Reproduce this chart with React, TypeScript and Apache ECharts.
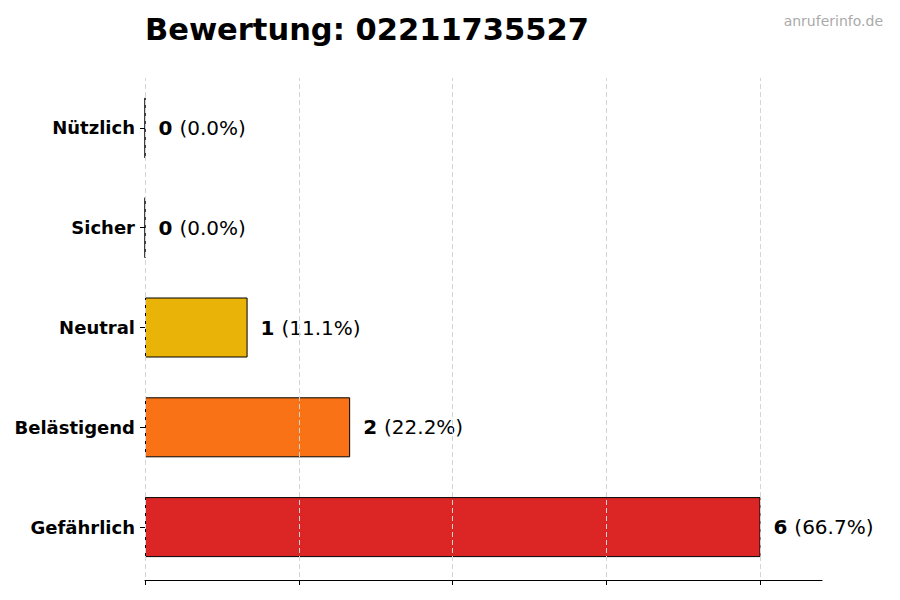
import { useEffect, useRef } from 'react';
import * as echarts from 'echarts';

const categories = ['Gefährlich', 'Belästigend', 'Neutral', 'Sicher', 'Nützlich'];
const counts = [6, 2, 1, 0, 0];
const barColors = ['#dc2626', '#f97316', '#eab308', '#22c55e', '#3b82f6'];
const xTicks = [0, 1.5, 3, 4.5, 6];

const total = counts.reduce((a, b) => a + b, 0);

const App: React.FC = () => {
  const divRef = useRef<HTMLDivElement | null>(null);

  useEffect(() => {
    document.body.style.margin = '0';
    if (!divRef.current) return;
    const chart = echarts.init(divRef.current, undefined, { renderer: 'svg' });
    const font = 'DejaVu Sans, sans-serif';

    chart.setOption({
      animation: false,
      textStyle: { fontFamily: font },
      title: [
        {
          text: 'Bewertung: 02211735527',
          left: 140,
          top: 9,
          textStyle: { fontSize: 30.5, fontWeight: 'bold', color: '#000', fontFamily: font },
        },
        {
          text: 'anruferinfo.de',
          right: 12,
          top: 9,
          textStyle: { fontSize: 14, fontWeight: 'normal', color: '#aaaaaa', fontFamily: font },
        },
      ],
      grid: { left: 145, right: 78, top: 78, bottom: 23 },
      xAxis: {
        type: 'value',
        min: 0,
        max: 6.6,
        offset: 3,
        axisLine: { show: true, lineStyle: { color: '#000', width: 1 } },
        axisTick: {
          show: true,
          length: 5,
          customValues: xTicks,
          lineStyle: { color: '#000' },
        },
        axisLabel: { show: false },
        splitLine: { show: false },
      },
      yAxis: {
        type: 'category',
        data: categories,
        axisLine: { show: false },
        axisTick: { show: true, length: 5, alignWithLabel: true, lineStyle: { color: '#000' } },
        axisLabel: { fontSize: 18, fontWeight: 'bold', color: '#000', margin: 10, fontFamily: font },
        splitLine: { show: false },
      },
      series: [
        {
          type: 'bar',
          barWidth: 60,
          data: counts.map((v, i) => ({
            value: v,
            itemStyle: { color: barColors[i], borderColor: '#000', borderWidth: 1 },
          })),
          label: {
            show: true,
            position: 'right',
            distance: 13,
            formatter: (p: any) =>
              `{b|${p.value} }{n|(${((p.value / total) * 100).toFixed(1)}%)}`,
            rich: {
              b: { fontSize: 20, fontWeight: 'bold', color: '#000', fontFamily: font },
              n: { fontSize: 20, color: '#000', fontFamily: font },
            },
          },
          markLine: {
            silent: true,
            symbol: 'none',
            z: 10,
            label: { show: false },
            lineStyle: { color: '#d4d4d4', type: [5, 3], width: 1 },
            data: xTicks.map((t) => ({ xAxis: t })),
          },
        },
      ],
    });

    return () => chart.dispose();
  }, []);

  return <div ref={divRef} style={{ width: 900, height: 600 }} />;
};

export default App;
